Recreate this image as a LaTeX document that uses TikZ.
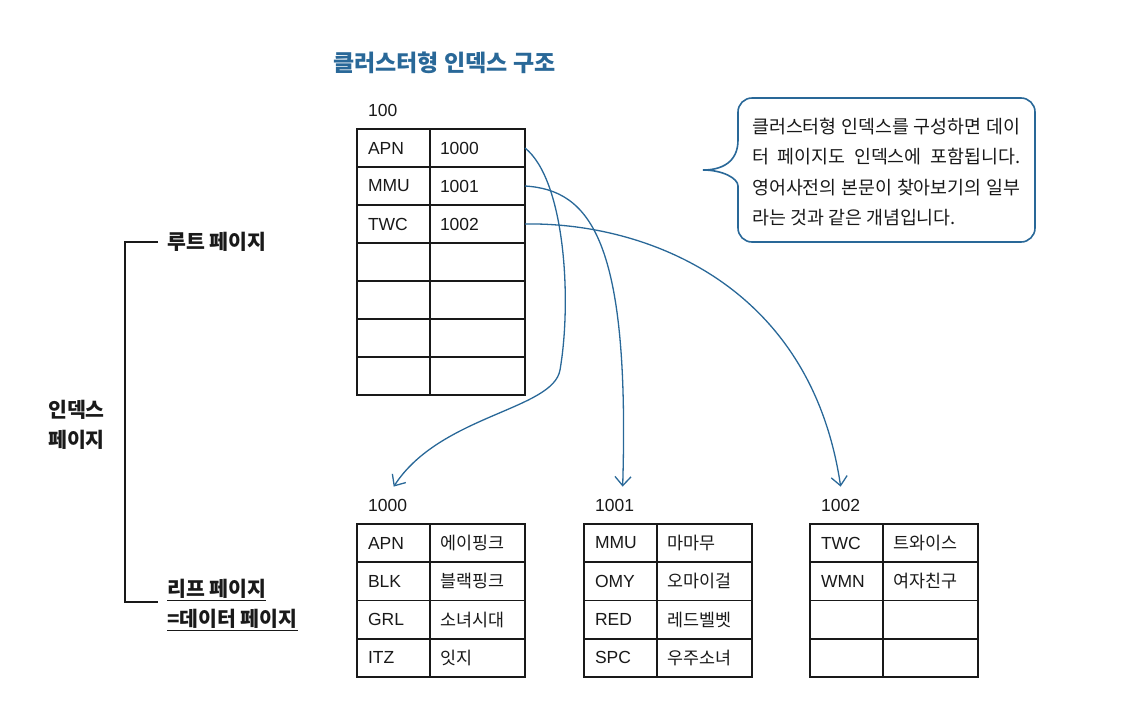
\documentclass[tikz,border=0pt]{standalone}
\usepackage{fontspec}
\setmainfont{Liberation Sans}
\newfontfamily\kr{Noto Sans CJK KR}
\usetikzlibrary{arrows.meta}
\definecolor{idxblue}{RGB}{41,104,152}
\definecolor{ink}{RGB}{25,25,25}

\begin{document}
\begin{tikzpicture}[x=1pt,y=-1pt,
  keycell/.style={draw=ink, line width=1.2pt, anchor=north west, outer sep=0pt,
    minimum height=38pt, inner xsep=11pt, inner ysep=0pt, text width=51pt,
    align=left, text=ink, font=\fontsize{17.5}{20}\selectfont},
  valcell/.style={keycell, anchor=west, inner xsep=10pt, text width=75pt},
  krcell/.style={valcell, font=\kr\fontsize{17.4}{20}\selectfont},
  tableframe/.style={draw=ink, line width=2.2pt},
  pagenum/.style={anchor=west, inner sep=0pt, text=ink, font=\fontsize{17.5}{20}\selectfont},
  sidetext/.style={anchor=west, inner sep=0pt, align=left, text=ink,
    font=\kr\bfseries\fontsize{20.5}{30}\selectfont},
  heading/.style={anchor=west, inner sep=0pt, text=idxblue,
    font=\kr\bfseries\fontsize{23}{26}\selectfont},
  notetext/.style={anchor=west, inner sep=0pt, align=left, text=ink,
    font=\kr\fontsize{18.4}{30.5}\selectfont},
  notebox/.style={draw=idxblue, line width=1.6pt},
  link/.style={draw=idxblue, line width=1.3pt, -{Straight Barb[length=9pt,width=16pt]}},
  bracket/.style={draw=ink, line width=1.3pt}]
  \useasboundingbox (0,0) rectangle (1145,702);

  % title
  \node[heading] (title) at (333,63) {클러스터형 인덱스 구조};

  % root page
  \node[pagenum] (p100) at (368,110) {100};
  \foreach \k/\v [count=\i] in {APN/1000,MMU/1001,TWC/1002,{}/{},{}/{},{}/{},{}/{}} {
    \node[keycell] (rk\i) at (357,{129+38*(\i-1)}) {\k};
    \node[valcell] (rv\i) at (rk\i.east) {\v};
  }
  \draw[tableframe] (rk1.north west) rectangle (rv7.south east);

  % leaf pages
  \foreach \tx/\pg/\dx/\rows in {357/1000/6/{APN/에이핑크,BLK/블랙핑크,GRL/소녀시대,ITZ/잇지},
      584/1001/8/{MMU/마마무,OMY/오마이걸,RED/레드벨벳,SPC/우주소녀},
      810/1002/0/{TWC/트와이스,WMN/여자친구,{}/{},{}/{}}} {
    \node[pagenum] (p\pg) at ({\tx+11},505) {\pg};
    \coordinate (t\pg) at ([xshift=\dx pt,yshift=12pt]p\pg.north);
    \foreach \k/\v [count=\j] in \rows {
      \node[keycell] (k\pg-\j) at (\tx,{524+38.3*(\j-1)}) {\k};
      \node[krcell] (v\pg-\j) at (k\pg-\j.east) {\v};
    }
    \draw[tableframe] (k\pg-1.north west) rectangle (v\pg-4.south east);
  }

  % three arrows
  \draw[link] (rv1.east) .. controls (565,180) and (572,300) .. (560,370)
    .. controls (553,410) and (440,415) .. (t1000);
  \draw[link] (rv2.east) .. controls (590,190) and (630,240) .. (t1001);
  \draw[link] (rv3.east) .. controls (640,222) and (810,280) .. (t1002);

  % speech bubble
  \draw[notebox] (738,200) .. controls (738,178) and (722,170) .. (703,170)
    .. controls (722,170) and (738,162) .. (738,140)
    [rounded corners=14pt] -- (738,98) -- (1035,98) -- (1035,242) -- (738,242) -- cycle;
  \node[notetext] (note) at (752,172) {\hbox to 268pt{클러스터형 인덱스를 구성하면 데이}\\
    \hbox to 268pt{터 페이지도 인덱스에 포함됩니다.}\\
    \hbox to 268pt{영어사전의 본문이 찾아보기의 일부}\\
    라는 것과 같은 개념입니다.};

  % side labels and bracket
  \node[sidetext] (lroot) at (167,242) {루트 페이지};
  \node[sidetext] (lindex) at (48,425) {인덱스\\페이지};
  \node[sidetext] (lleaf) at (167,590) {\underline{리프 페이지}};
  \node[sidetext] (ldata) at (167,620) {\underline{=데이터 페이지}};
  \draw[bracket] ([xshift=-9pt]lroot.west) -- ++(-33,0) |- ([xshift=-9pt,yshift=-12pt]lleaf.west);
\end{tikzpicture}
\end{document}
